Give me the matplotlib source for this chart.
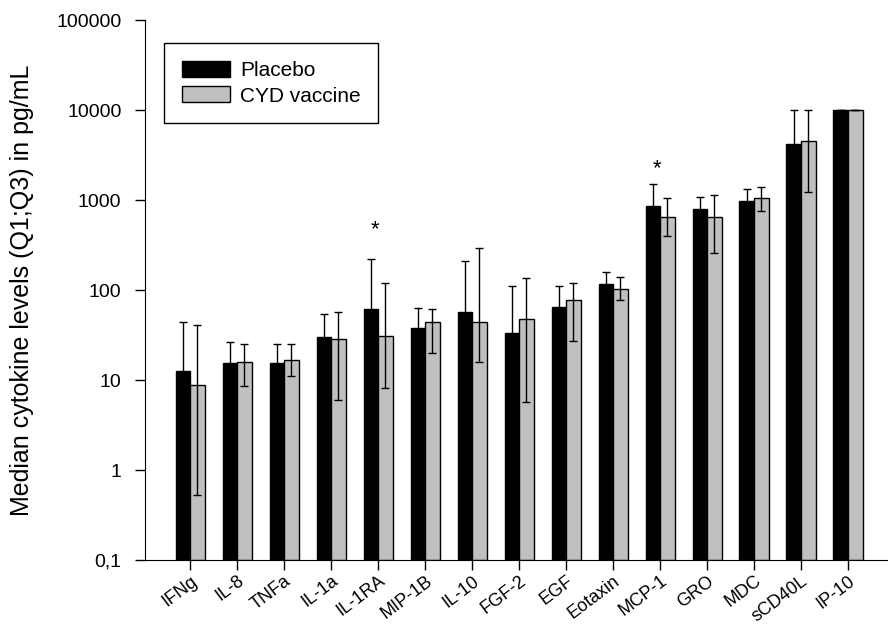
import numpy as np
import matplotlib
matplotlib.use("Agg")
import matplotlib.pyplot as plt
from matplotlib.ticker import FixedLocator, FixedFormatter, NullLocator

cytokines = ['IFNg', 'IL-8', 'TNFa', 'IL-1a', 'IL-1RA', 'MIP-1B', 'IL-10', 'FGF-2',
             'EGF', 'Eotaxin', 'MCP-1', 'GRO', 'MDC', 'sCD40L', 'IP-10']

# medians and quartiles (pg/mL)
placebo_med = [12.4, 15.2, 15.2, 30.3, 61.5, 37.8, 56.5, 33.6, 64.2, 116.6, 858, 787, 975, 4190, 10000]
placebo_q1 = [4.0, 9.0, 9.0, 15.0, 20.0, 25.0, 20.0, 12.0, 40.0, 90.0, 500, 500, 750, 1500, 10000]
placebo_q3 = [44.5, 26.4, 25.3, 54.1, 221, 63.6, 212, 111, 111, 158, 1506, 1089, 1325, 9900, 10000]

vaccine_med = [8.6, 15.7, 16.4, 28.8, 31.1, 44.5, 44.1, 48.0, 77.4, 102.6, 647, 647, 1045, 4560, 10000]
vaccine_q1 = [0.53, 8.6, 11.0, 6.0, 8.2, 20.0, 15.7, 5.7, 27.3, 77.4, 398, 258, 760, 1237, 10000]
vaccine_q3 = [40.8, 25.3, 25.3, 56.5, 120, 61.5, 290, 136, 120, 141, 1045, 1137, 1394, 9900, 10000]

significant = ['IL-1RA', 'MCP-1']
star_level = {'IL-1RA': 470, 'MCP-1': 2250}

ytick_vals = [0.1, 1, 10, 100, 1000, 10000, 100000]
ytick_labels = ['0,1', '1', '10', '100', '1000', '10000', '100000']

plt.rcParams['font.family'] = ['Liberation Sans', 'DejaVu Sans']

fig = plt.figure(figsize=(8.88, 6.28), dpi=100)
ax = fig.add_axes([0.1633, 0.1083, 0.8367, 0.8597])

x = np.arange(len(cytokines))
w = 0.31
pm = np.array(placebo_med)
vm = np.array(vaccine_med)
p_err = [pm - np.array(placebo_q1), np.array(placebo_q3) - pm]
v_err = [vm - np.array(vaccine_q1), np.array(vaccine_q3) - vm]

ax.bar(x - w / 2, pm, w, bottom=0.1, color='black', edgecolor='black', linewidth=1,
       label='Placebo', zorder=2)
ax.bar(x + w / 2, vm, w, bottom=0.1, color='#c0c0c0', edgecolor='black', linewidth=1,
       label='CYD vaccine', zorder=2)
ax.errorbar(x - w / 2, pm, yerr=p_err, fmt='none', ecolor='black', elinewidth=1,
            capsize=3, capthick=1, zorder=3)
ax.errorbar(x + w / 2, vm, yerr=v_err, fmt='none', ecolor='black', elinewidth=1,
            capsize=3, capthick=1, zorder=3)

for name in significant:
    i = cytokines.index(name)
    ax.text(i - 0.06, star_level[name], '*', ha='center', va='center', fontsize=16)

ax.set_yscale('log')
ax.set_ylim(0.1, 100000)
ax.set_xlim(-0.96, 14.85)
ax.yaxis.set_major_locator(FixedLocator(ytick_vals))
ax.yaxis.set_major_formatter(FixedFormatter(ytick_labels))
ax.yaxis.set_minor_locator(NullLocator())
ax.set_xticks(x)
ax.set_xticklabels(cytokines, rotation=37, ha='right', rotation_mode='anchor')

ax.tick_params(axis='both', direction='out', length=7, width=1, labelsize=14)
ax.tick_params(axis='x', pad=2, labelsize=13)
ax.tick_params(axis='y', pad=10)
ax.spines['top'].set_visible(False)
ax.spines['right'].set_visible(False)

ax.set_ylabel('Median cytokine levels (Q1;Q3) in pg/mL', fontsize=18, labelpad=16)

leg = ax.legend(loc='upper left', bbox_to_anchor=(0.0256, 0.957), borderaxespad=0,
                fontsize=15, fancybox=False, edgecolor='black', framealpha=1,
                borderpad=0.85, handlelength=2.3, handleheight=0.8,
                labelspacing=0.3, handletextpad=0.5)
leg.get_frame().set_linewidth(1)

fig.savefig('out.png', dpi=100)
